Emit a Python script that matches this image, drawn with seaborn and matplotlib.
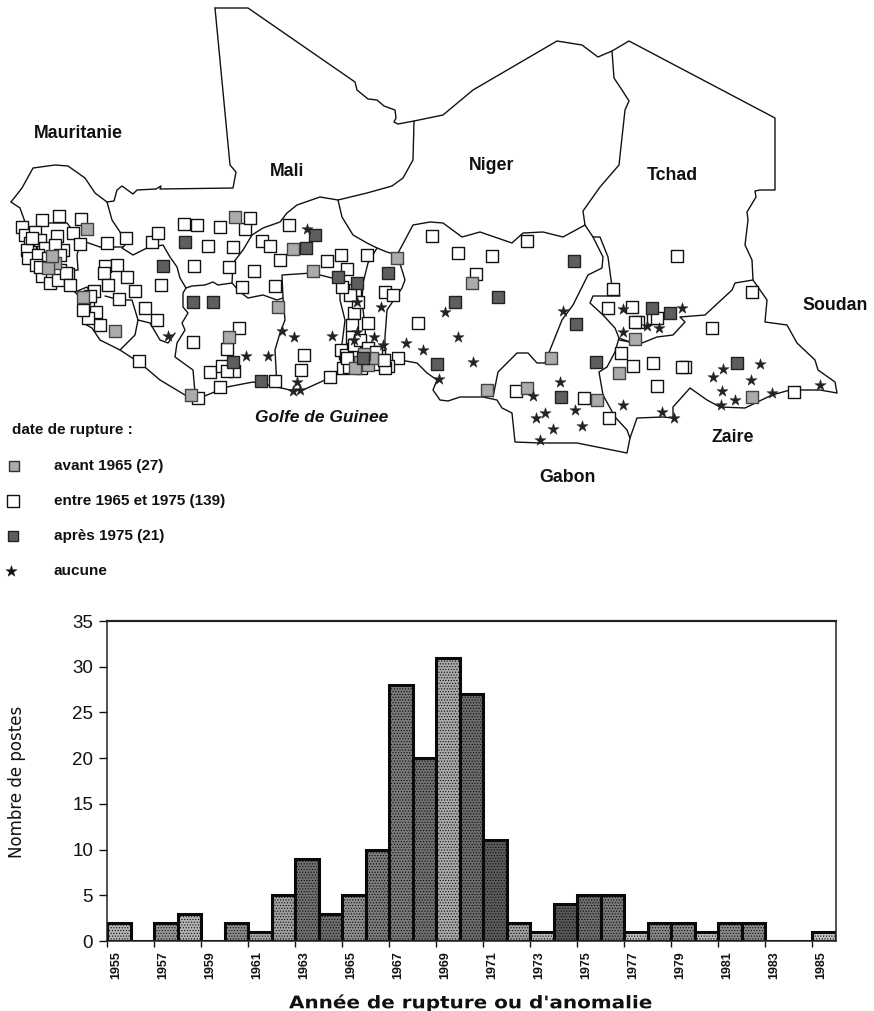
import matplotlib
matplotlib.use("Agg")
import matplotlib.pyplot as plt
from matplotlib.patheffects import AbstractPathEffect
from matplotlib.transforms import Affine2D
import numpy as np
import pandas as pd
import seaborn as sns

# ---------- histogram data ----------
years = list(range(1955, 1986))
counts = [2, 0, 2, 3, 0, 2, 1, 5, 9, 3, 5, 10, 28, 20, 31, 27, 11, 2, 1, 4, 5, 5, 1, 2, 2, 1, 2, 2, 0, 0, 1]
bar_greys = ["#b4b4b4", "#aaaaaa", "#989898", "#b4b4b4", "#aaaaaa", "#8c8c8c", "#a8a8a8", "#a0a0a0", "#707070",
             "#6e6e6e", "#909090", "#7c7c7c", "#7a7a7a", "#707070", "#aaaaaa", "#6c6c6c", "#5c5c5c", "#a0a0a0",
             "#b8b8b8", "#585858", "#6e6e6e", "#787878", "#bcbcbc", "#8a8a8a", "#8a8a8a", "#bcbcbc", "#8a8a8a",
             "#8a8a8a", "#aaaaaa", "#aaaaaa", "#c4c4c4"]
y_tick_values = [0, 5, 10, 15, 20, 25, 30, 35]
y_tick_labels = ["0", "5", "10", "15", "20", "25", "30", "35"]

# ---------- map data (positions) ----------
border_mali_top = [(215, 8), (248, 8), (355, 82), (357, 90), (368, 99), (377, 100), (384, 106), (395, 110), (396, 118),
                   (394, 122), (398, 124), (414, 121), (443, 115), (473, 90), (557, 41), (582, 45), (598, 57), (612, 51),
                   (629, 41), (775, 118), (775, 190), (760, 190), (755, 191), (756, 197), (750, 207), (747, 212), (748, 220),
                   (745, 245), (752, 260), (753, 280)]
border_mali_west = [(215, 8), (230, 165), (236, 172), (233, 188), (160, 189), (161, 186), (156, 189), (137, 190), (133, 194),
                    (122, 186), (117, 190), (114, 201), (107, 202)]
border_mauritania = [(11, 202), (22, 188), (33, 168), (55, 165), (68, 166), (85, 178), (95, 193), (107, 202), (112, 220),
                     (120, 232), (125, 245), (122, 248), (133, 255), (147, 248), (163, 245), (170, 257), (177, 267),
                     (180, 278), (186, 288), (192, 286), (205, 285), (213, 282), (218, 285), (232, 283), (233, 263),
                     (243, 250), (252, 235), (263, 228), (280, 222), (287, 213), (297, 205), (320, 197), (338, 200),
                     (367, 193), (392, 186), (403, 178), (413, 160), (414, 121)]
border_coast_west = [(11, 202), (20, 208), (25, 222), (36, 240), (40, 265), (62, 272), (67, 287), (75, 292), (85, 303),
                     (83, 323), (92, 328), (100, 340), (120, 350), (140, 363), (160, 380), (185, 395), (202, 397), (227, 387),
                     (253, 382), (277, 387), (290, 390), (303, 390), (325, 380), (343, 372), (367, 370), (400, 360),
                     (417, 363), (427, 373), (437, 380), (433, 390), (440, 400), (448, 401), (460, 397), (483, 397),
                     (497, 400), (502, 408), (512, 413), (515, 442), (540, 443), (577, 443), (627, 453), (630, 438),
                     (637, 418), (663, 417), (673, 418), (673, 407), (690, 388), (707, 400), (720, 407), (745, 408),
                     (772, 395), (790, 390), (820, 390), (837, 393), (835, 382), (818, 370), (815, 360), (797, 343),
                     (787, 325), (765, 322), (767, 300), (753, 280), (735, 283), (732, 290), (705, 315), (680, 317),
                     (685, 322), (673, 335), (657, 337), (642, 343), (630, 342), (619, 340)]
border_chad_west = [(612, 51), (614, 78), (622, 90), (629, 101), (625, 110), (619, 165), (600, 187), (583, 211), (585, 225),
                    (593, 237), (600, 237), (608, 257), (612, 287), (620, 296), (593, 296), (590, 303), (603, 315), (615, 328),
                    (619, 338), (615, 352), (607, 367), (599, 372), (603, 395), (615, 417), (627, 430), (630, 438)]
border_niger_south = [(338, 200), (342, 217), (353, 235), (367, 243), (377, 248), (387, 252), (397, 255), (405, 240), (413, 225),
                      (430, 222), (443, 223), (462, 237), (480, 232), (512, 243), (523, 233), (543, 232), (563, 237), (585, 225)]
border_nigeria_east = [(593, 237), (603, 257), (602, 268), (588, 275), (573, 305), (562, 320), (550, 350), (545, 363),
                       (537, 363), (528, 353), (517, 353), (498, 372), (493, 397)]
border_benin = [(397, 255), (402, 270), (405, 280), (402, 288), (387, 310), (385, 337), (385, 357)]
border_togo_benin = [(377, 248), (368, 263), (363, 283), (362, 300), (365, 327), (367, 360)]
border_ghana = [(340, 360), (345, 320), (340, 300), (340, 280), (312, 273), (282, 275), (283, 298), (285, 320), (280, 333),
                (275, 350), (277, 387)]
border_burkina = [(232, 283), (240, 292), (248, 298), (263, 295), (277, 300), (283, 298)]
border_ivory = [(186, 288), (183, 293), (183, 307), (188, 313), (182, 323), (185, 330), (177, 343), (175, 357), (193, 370), (195, 393)]
border_liberia = [(120, 350), (135, 335), (138, 320), (132, 300), (120, 300), (105, 296)]
border_guinea = [(138, 320), (150, 323), (160, 340), (168, 343), (175, 333)]
border_senegal = [(43, 223), (67, 223), (80, 240), (100, 247), (123, 247)]
border_gambia = [(62, 272), (78, 270), (77, 255), (80, 244)]
border_guinea_north = [(75, 292), (87, 287), (95, 300)]
border_chari = [(619, 338), (630, 342)]

squares_open_x = [22, 42, 59, 81, 73, 57, 80, 63, 107, 126, 152, 158, 184, 197, 245, 250, 220, 208, 233, 194, 229, 262, 270, 289,
                  280, 254, 242, 275, 327, 341, 367, 347, 105, 117, 104, 127, 108, 94, 135, 119, 68, 145, 157, 161, 193, 239,
                  227, 210, 222, 234, 227, 304, 301, 275, 220, 330, 198, 139, 432, 418, 368, 354, 352, 352, 385, 393, 355,
                  358, 350, 342, 345, 398, 458, 492, 476, 527, 613, 608, 632, 638, 635, 653, 657, 677, 752, 712, 621, 633,
                  653, 657, 685, 682, 516, 584, 609, 794,
                  25, 30, 27, 35, 40, 45, 28, 38, 48, 36, 45, 55, 53, 60, 42, 52, 60, 50, 58, 40, 32, 66, 70, 88, 84, 96,
                  100, 88, 83, 90,
                  341, 346, 352, 358, 364, 370, 376, 382, 388, 343, 349, 355, 361, 367, 373, 379, 385, 347, 354, 360, 368, 376, 384]
squares_open_y = [227, 220, 216, 219, 233, 236, 244, 250, 243, 238, 242, 233, 224, 225, 229, 218, 227, 246, 247, 266, 267, 241, 246,
                  225, 260, 271, 287, 286, 261, 255, 255, 269, 266, 265, 273, 277, 285, 291, 291, 299, 274, 308, 320, 285, 342,
                  328, 349, 372, 366, 371, 371, 355, 370, 381, 387, 377, 398, 361, 236, 323, 323, 313, 325, 337, 292, 295, 290,
                  302, 295, 287, 353, 358, 253, 256, 274, 241, 289, 308, 307, 322, 322, 318, 318, 256, 292, 328, 353, 366,
                  363, 386, 367, 367, 391, 398, 418, 392,
                  235, 243, 250, 232, 240, 248, 258, 255, 258, 265, 268, 245, 262, 255, 276, 272, 270, 283, 280, 267, 238, 273,
                  285, 305, 298, 312, 325, 318, 310, 296,
                  350, 355, 360, 352, 357, 362, 352, 360, 366, 368, 367, 353, 368, 358, 364, 356, 368, 358, 345, 340, 348, 352, 360]
squares_avant_x = [235, 87, 293, 313, 397, 278, 115, 229, 83, 191, 55, 48, 52, 472, 551, 487, 527, 597, 619, 635, 752, 360, 368, 355, 372, 364]
squares_avant_y = [217, 229, 249, 271, 258, 307, 331, 337, 297, 395, 263, 268, 256, 283, 358, 390, 388, 400, 373, 339, 397, 362, 365, 368, 358, 354]
squares_apres_x = [163, 315, 306, 193, 213, 233, 261, 338, 357, 185, 388, 574, 455, 498, 576, 437, 596, 561, 652, 670, 737, 363]
squares_apres_y = [266, 235, 248, 302, 302, 362, 381, 277, 283, 242, 273, 261, 302, 297, 324, 364, 362, 397, 308, 313, 363, 358]
stars_x = [445, 458, 473, 439, 563, 560, 533, 545, 536, 575, 553, 582, 540, 623, 682, 623, 659, 647, 623, 662, 674, 723, 713, 760,
           751, 722, 735, 721, 772, 820, 168, 246, 268, 282, 294, 332, 297, 293, 300, 307, 406, 423, 381, 354, 374, 357, 357, 383]
stars_y = [312, 337, 362, 379, 311, 382, 396, 413, 418, 410, 429, 426, 440, 309, 308, 332, 328, 326, 405, 412, 418, 369, 377, 364,
           380, 391, 400, 405, 393, 385, 336, 356, 356, 331, 337, 336, 382, 391, 390, 229, 343, 350, 307, 340, 337, 332, 302, 345]

countries = ["Mauritanie", "Mali", "Niger", "Tchad", "Soudan", "Zaire", "Gabon"]
countries_x = [78, 287, 492, 672, 835, 733, 567]
countries_y = [133, 171, 166, 175, 305, 438, 478]

legend_labels = ["avant 1965 (27)", "entre 1965 et 1975 (139)", "après 1975 (21)", "aucune"]
legend_marks_x = [14, 13, 13, 11]
legend_y = [466, 501, 536, 571]


class StretchX(AbstractPathEffect):
    """Widen a text around a pixel centre, to imitate the tracked-out lettering of the scan."""

    def __init__(self, factor, centre):
        super().__init__()
        self.factor = factor
        self.centre = centre

    def draw_path(self, renderer, gc, tpath, affine, rgbFace=None):
        stretch = Affine2D().translate(-self.centre, 0).scale(self.factor, 1).translate(self.centre, 0)
        renderer.draw_path(gc, tpath, affine + stretch, rgbFace)


sns.set_style("white")
plt.rcParams["font.family"] = ["Liberation Sans", "DejaVu Sans"]
plt.rcParams["hatch.linewidth"] = 0.5

fig = plt.figure(figsize=(8.74, 10.11), dpi=100)

# ---------- map ----------
ax_map = fig.add_axes([0, 0, 1, 1])
all_borders = {
    "a": border_mali_top, "b": border_mali_west, "c": border_mauritania, "d": border_coast_west, "e": border_chad_west,
    "f": border_niger_south, "g": border_nigeria_east, "h": border_benin, "i": border_togo_benin, "j": border_ghana,
    "k": border_burkina, "l": border_ivory, "m": border_liberia, "n": border_guinea, "o": border_senegal,
    "p": border_gambia, "q": border_guinea_north, "r": border_chari,
}
df_border = pd.DataFrame(
    [(name, i, px, py) for name, pts in all_borders.items() for i, (px, py) in enumerate(pts)],
    columns=["id", "order", "x", "y"],
)
sns.lineplot(data=df_border, x="x", y="y", units="id", estimator=None, sort=False, color="#111111",
             linewidth=1.0, ax=ax_map, legend=False, zorder=1)

SQ = 84
sns.scatterplot(x=squares_open_x, y=squares_open_y, marker="s", s=SQ, color="white", edgecolor="#111111", linewidth=1.0,
                ax=ax_map, zorder=2, legend=False)
sns.scatterplot(x=squares_avant_x, y=squares_avant_y, marker="s", s=SQ, color="#ababab", edgecolor="#444444", linewidth=1.0,
                ax=ax_map, zorder=3, legend=False)
sns.scatterplot(x=squares_apres_x, y=squares_apres_y, marker="s", s=SQ, color="#5e5e5e", edgecolor="#222222", linewidth=1.0,
                ax=ax_map, zorder=3, legend=False)
sns.scatterplot(x=stars_x, y=stars_y, marker="*", s=72, color="#222222", edgecolor="#222222", linewidth=0.3,
                ax=ax_map, zorder=4, legend=False)

for name, cx, cy in zip(countries, countries_x, countries_y):
    ax_map.text(cx, cy, name, ha="center", va="center", fontsize=12.8, fontweight="bold", color="#111111")
ax_map.text(322, 417, "Golfe de Guinee", ha="center", va="center", fontsize=12.5, fontweight="bold", style="italic", color="#111111")
ax_map.text(12, 430, "date de rupture :", ha="left", va="center", fontsize=11, fontweight="bold", color="#111111")

sns.scatterplot(x=[legend_marks_x[0]], y=[legend_y[0]], marker="s", s=50, color="#ababab", edgecolor="#333333", linewidth=1.0, ax=ax_map, legend=False)
sns.scatterplot(x=[legend_marks_x[1]], y=[legend_y[1]], marker="s", s=70, color="white", edgecolor="#111111", linewidth=1.0, ax=ax_map, legend=False)
sns.scatterplot(x=[legend_marks_x[2]], y=[legend_y[2]], marker="s", s=50, color="#5e5e5e", edgecolor="#222222", linewidth=1.0, ax=ax_map, legend=False)
sns.scatterplot(x=[legend_marks_x[3]], y=[legend_y[3]], marker="*", s=72, color="#111111", edgecolor="#111111", linewidth=0.3, ax=ax_map, legend=False)
for label, ly in zip(legend_labels, legend_y):
    ax_map.text(54, ly, label, ha="left", va="center", fontsize=11, fontweight="bold", color="#111111")

ax_map.set_xlim(0, 874)
ax_map.set_ylim(1011, 0)
ax_map.axis("off")

# ---------- histogram ----------
ax = fig.add_axes([107 / 874, 1 - 941 / 1011, 729 / 874, 320 / 1011])
ax.patch.set_alpha(0)
df = pd.DataFrame({"annee": [str(y) for y in years], "postes": counts})
sns.barplot(data=df, x="annee", y="postes", hue="annee", palette=bar_greys, legend=False, width=1.0,
            edgecolor="#0a0a0a", linewidth=2.2, saturation=1, ax=ax)
for patch in ax.patches:
    patch.set_hatch("......")

ax.set_xlim(-0.5, 30.5)
ax.set_ylim(0, 35)
ax.set_yticks(y_tick_values)
ax.set_yticklabels(y_tick_labels, fontsize=13.5, color="#111111")
ax.tick_params(axis="y", left=True, length=6, width=1, pad=4, color="#111111")

label_pos = np.arange(0, 31, 2)
ax.set_xticks(label_pos - 0.12)
ax.set_xticklabels([str(years[i]) for i in label_pos], rotation=90, fontsize=9, fontweight="bold", color="#111111")
ax.set_xticks(label_pos - 0.5, minor=True)
ax.tick_params(axis="x", which="major", bottom=False, pad=4)
ax.tick_params(axis="x", which="minor", bottom=True, length=4, width=1, color="#111111")

ax.set_xlabel("")
ax.set_ylabel("")
for s in ax.spines.values():
    s.set_visible(True)
    s.set_color("#222222")
    s.set_linewidth(1.1)
ax.spines["top"].set_linewidth(1.6)

fig.text(17 / 874, 1 - 782 / 1011, "Nombre de postes", rotation=90, ha="center", va="center",
         fontsize=12, color="#111111", family="DejaVu Sans")
xlabel = fig.text(471 / 874, 1 - 1003 / 1011, "Année de rupture ou d'anomalie", ha="center", va="center",
                  fontsize=12.5, fontweight="bold", family="DejaVu Sans", color="#111111")
xlabel.set_path_effects([StretchX(1.15, 471)])

fig.savefig("out.png", dpi=100)
